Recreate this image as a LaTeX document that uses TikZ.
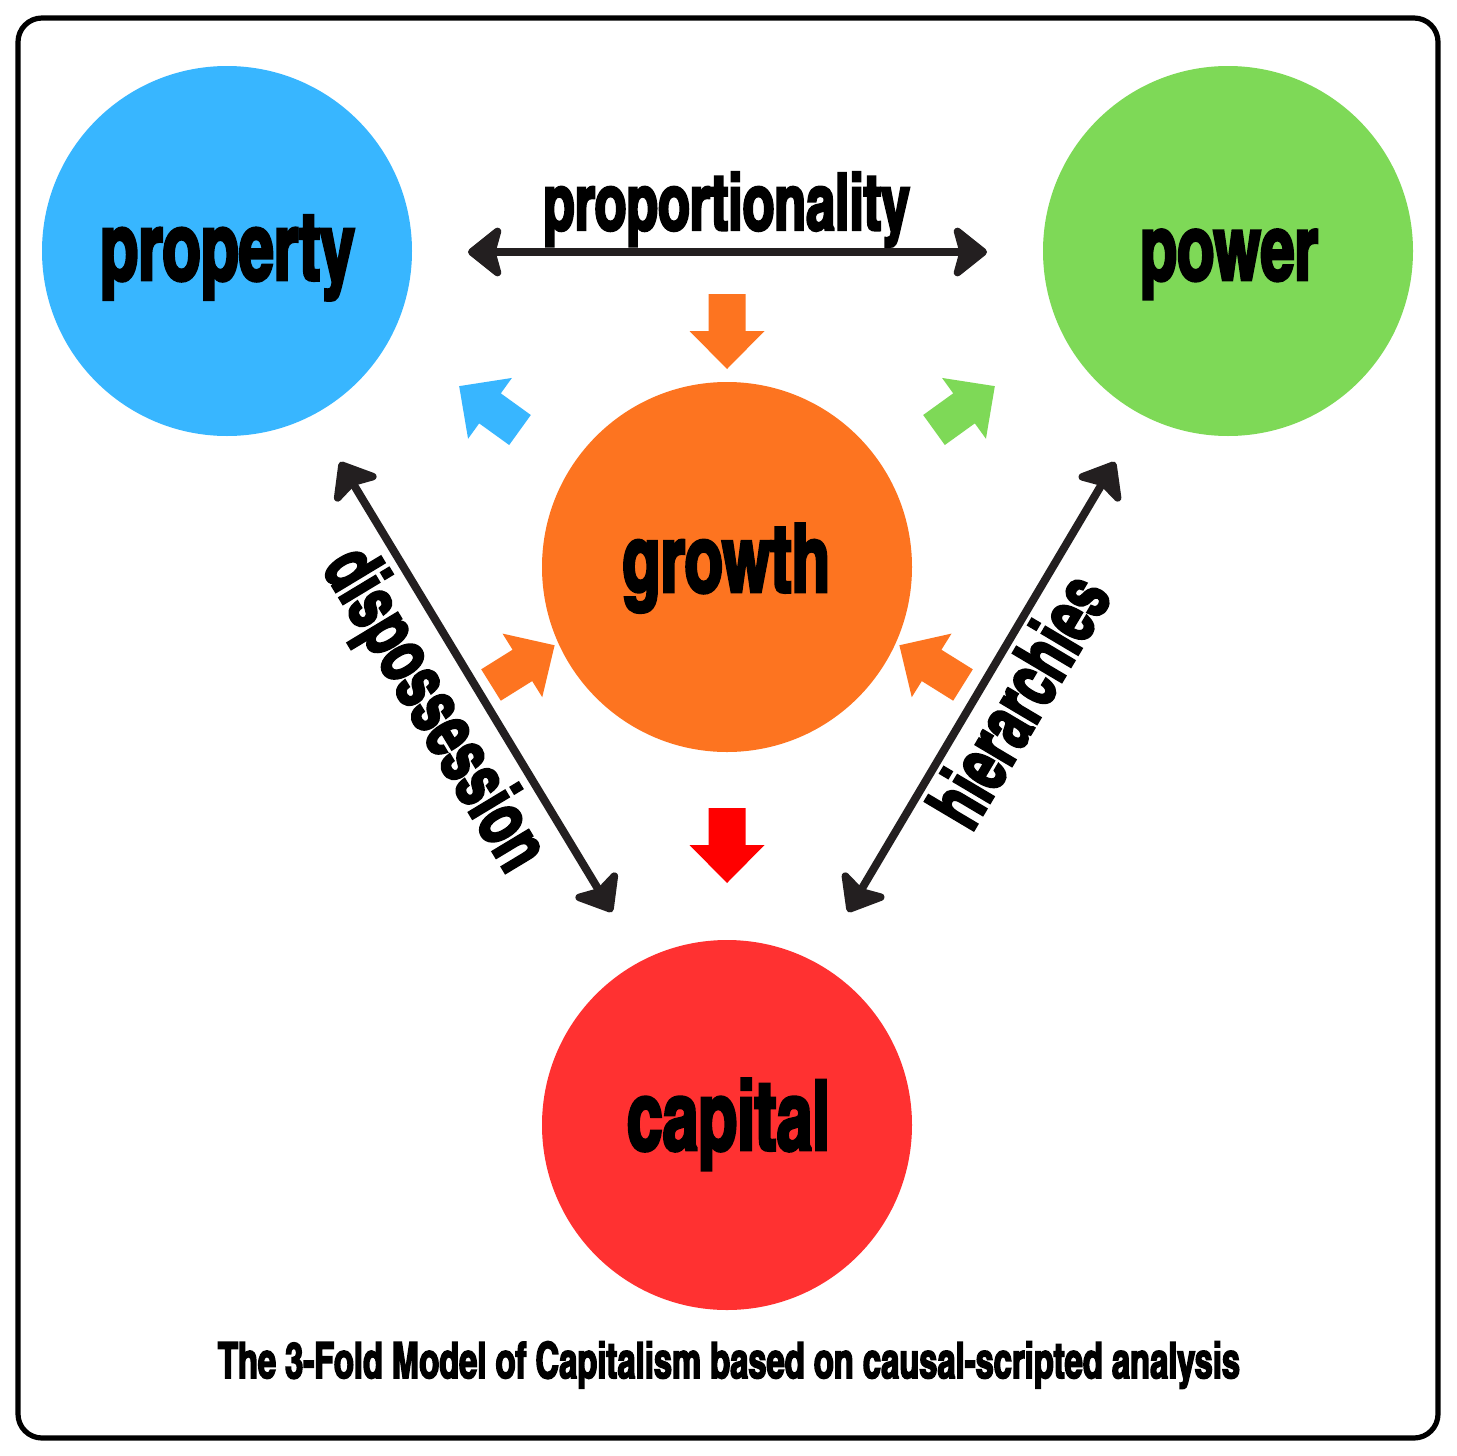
\documentclass[tikz,border=0pt]{standalone}
\usepackage{fontspec}
\usepackage{graphicx}
\usetikzlibrary{arrows.meta}
\IfFontExistsTF{texgyreheroscn-bold.otf}
 {\newfontfamily\antonf{texgyreheroscn-bold.otf}[FakeStretch=0.8,FakeBold=3]}
 {\newfontfamily\antonf{Liberation Sans Bold}[FakeStretch=0.65,FakeBold=3]}
\definecolor{propBlue}{HTML}{38B6FF}
\definecolor{powGreen}{HTML}{7ED957}
\definecolor{growOrange}{HTML}{FD7420}
\definecolor{capRed}{HTML}{FF3131}
\definecolor{arrRed}{HTML}{FF0000}
\definecolor{arrBlack}{HTML}{231F20}
\tikzset{
  circ/.style={circle, minimum size=185pt, inner sep=0pt, draw=none},
  lbltext/.style={inner sep=0pt, text=black},
  dblarrow/.style={draw=arrBlack, line width=4pt,
    {Stealth[length=19pt,width=30pt,inset=4pt,round]}-{Stealth[length=19pt,width=30pt,inset=4pt,round]}},
  blockarr/.pic={\path[pic actions] (0,-18.5) -- (37,-18.5) -- (37,-37.5) -- (75,0) -- (37,37.5) -- (37,18.5) -- (0,18.5) -- cycle;}
}
% name, x, y, angle, anchor, width, text
\newcommand\txtlbl[7]{%
  \node[lbltext,anchor=#5,rotate=#4] (#1) at (#2,#3) {\resizebox{#6}{!}{\antonf #7}};}
\begin{document}
\begin{tikzpicture}[x=0.5pt,y=0.5pt]
  \useasboundingbox (0,0) rectangle (1456,-1456);
  \fill[white] (0,0) rectangle (1456,-1456);
  \draw[line width=2.6pt, rounded corners=12pt] (18,-18) rectangle (1438,-1438);

  % circles
  \node[circ, fill=propBlue] (property) at (227,-251) {};
  \node[circ, fill=powGreen] (power) at (1228,-251) {};
  \node[circ, fill=growOrange] (growth) at (727,-567) {};
  \node[circ, fill=capRed] (capital) at (727,-1125) {};

  % block arrows
  \pic[fill=growOrange, rotate=-90] (bTop) at (727,-294) {blockarr};
  \pic[fill=propBlue, rotate=144.2] (bBlue) at (520,-430) {blockarr};
  \pic[fill=powGreen, rotate=35.8] (bGreen) at (934,-430) {blockarr};
  \pic[fill=growOrange, rotate=32] (bLL) at (491,-685) {blockarr};
  \pic[fill=growOrange, rotate=148] (bLR) at (963,-685) {blockarr};
  \pic[fill=arrRed, rotate=-90] (bRed) at (727,-808) {blockarr};

  % double arrows
  \coordinate (pa1) at (468,-252);
  \coordinate (pa2) at (987,-252);
  \coordinate (da1) at (340,-462);
  \coordinate (da2) at (612,-912);
  \coordinate (ha1) at (1115,-462);
  \coordinate (ha2) at (848,-912);
  \draw[dblarrow] (pa1) -- (pa2);
  \draw[dblarrow] (da1) -- (da2);
  \draw[dblarrow] (ha1) -- (ha2);

  % labels
  \txtlbl{tProperty}{227.5}{-280}{0}{base}{127.5pt}{property}
  \txtlbl{tPower}{1229}{-280}{0}{base}{89pt}{power}
  \txtlbl{tGrowth}{726}{-592}{0}{base}{104pt}{growth}
  \txtlbl{tCapital}{728.5}{-1150}{0}{base}{101.5pt}{capital}
  \txtlbl{tProp}{726.5}{-230}{0}{base}{183.5pt}{proportionality}
  \txtlbl{tDisp}{432}{-711}{-58.9}{center}{180pt}{dispossession}
  \txtlbl{tHier}{1018}{-700}{59.3}{center}{138pt}{hierarchies}
  \txtlbl{tCaption}{729}{-1378}{0}{base}{511pt}{The 3-Fold Model of Capitalism based on causal-scripted analysis}
\end{tikzpicture}
\end{document}
